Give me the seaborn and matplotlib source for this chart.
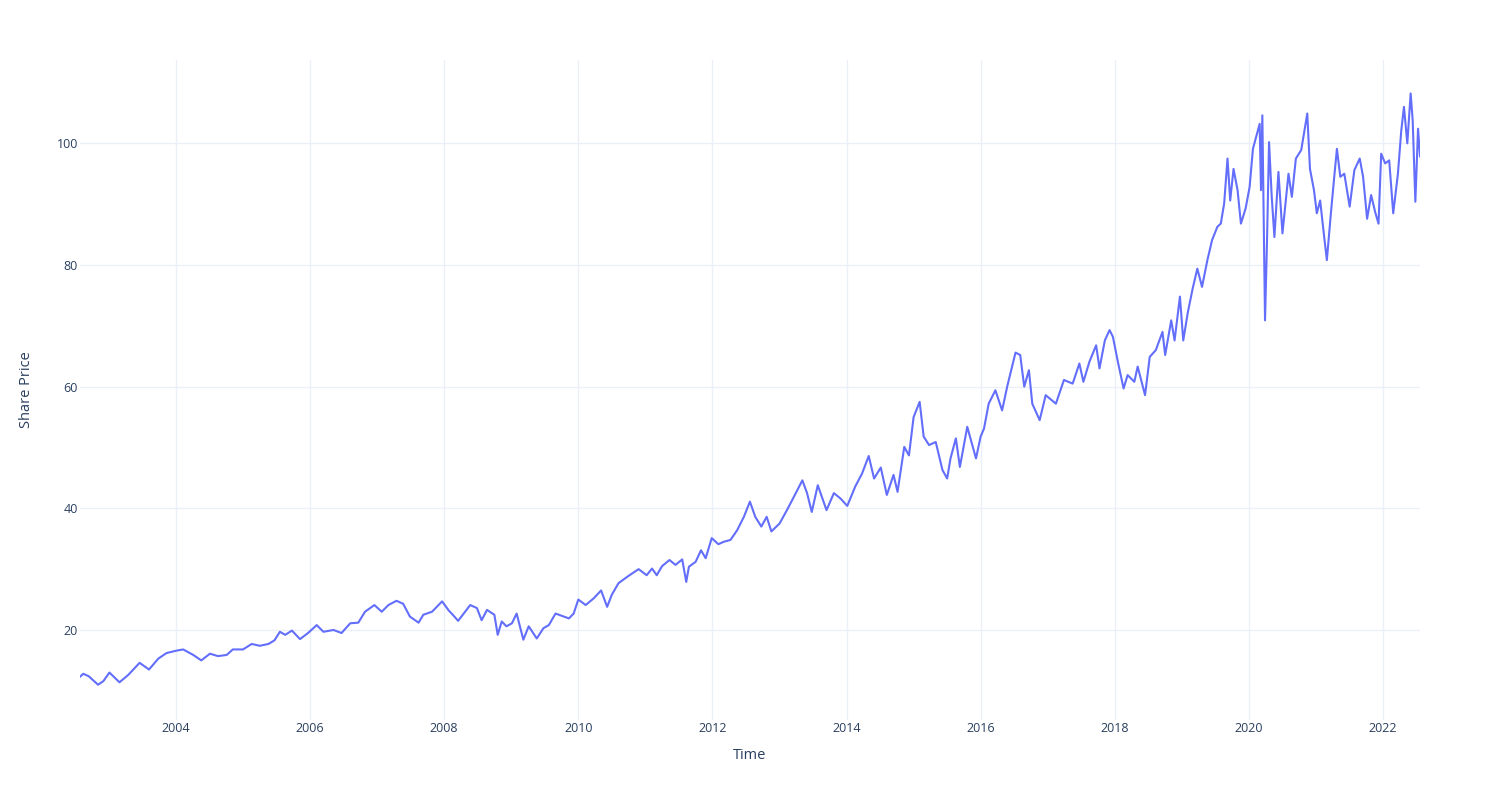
import matplotlib
matplotlib.use("Agg")
import matplotlib.pyplot as plt
import matplotlib.dates as mdates
import pandas as pd
import seaborn as sns

# time as fractional years, share price
time_years = [
    2002.57, 2002.62, 2002.70, 2002.84, 2002.92, 2003.01, 2003.16, 2003.29, 2003.46, 2003.60,
    2003.74, 2003.86, 2004.01, 2004.11, 2004.26, 2004.38, 2004.51, 2004.63, 2004.76, 2004.85,
    2005.00, 2005.13, 2005.25, 2005.38, 2005.47, 2005.55, 2005.63, 2005.73, 2005.85, 2005.97,
    2006.10, 2006.20, 2006.35, 2006.47, 2006.60, 2006.72, 2006.82, 2006.96, 2007.07, 2007.17,
    2007.29, 2007.39, 2007.49, 2007.62, 2007.69, 2007.82, 2007.97, 2008.07, 2008.13, 2008.21,
    2008.39, 2008.49, 2008.56, 2008.64, 2008.75, 2008.80, 2008.86, 2008.93, 2009.01, 2009.08,
    2009.18, 2009.26, 2009.38, 2009.48, 2009.56, 2009.66, 2009.76, 2009.86, 2009.93, 2010.00,
    2010.11, 2010.23, 2010.34, 2010.43, 2010.50, 2010.60, 2010.75, 2010.90, 2011.02, 2011.10,
    2011.17, 2011.25, 2011.36, 2011.45, 2011.55, 2011.61, 2011.65, 2011.75, 2011.83, 2011.90,
    2011.99, 2012.09, 2012.17, 2012.27, 2012.37, 2012.47, 2012.56, 2012.64, 2012.73, 2012.81,
    2012.88, 2013.00, 2013.11, 2013.20, 2013.34, 2013.41, 2013.48, 2013.57, 2013.70, 2013.81,
    2013.91, 2014.01, 2014.13, 2014.23, 2014.33, 2014.41, 2014.51, 2014.60, 2014.70, 2014.76,
    2014.86, 2014.93, 2015.00, 2015.09, 2015.15, 2015.23, 2015.33, 2015.43, 2015.50, 2015.55,
    2015.63, 2015.69, 2015.80, 2015.93, 2016.00, 2016.05, 2016.12, 2016.22, 2016.32, 2016.40,
    2016.52, 2016.59, 2016.65, 2016.72, 2016.77, 2016.88, 2016.97, 2017.12, 2017.24, 2017.37,
    2017.47, 2017.53, 2017.62, 2017.72, 2017.77, 2017.85, 2017.92, 2017.97, 2018.05, 2018.13,
    2018.19, 2018.29, 2018.34, 2018.45, 2018.52, 2018.61, 2018.71, 2018.75, 2018.84, 2018.89,
    2018.97, 2019.02, 2019.09, 2019.16, 2019.23, 2019.30, 2019.38, 2019.45, 2019.53, 2019.58,
    2019.63, 2019.68, 2019.72, 2019.77, 2019.83, 2019.88, 2019.95, 2020.01, 2020.06, 2020.12,
    2020.16, 2020.18, 2020.20, 2020.24, 2020.27, 2020.30, 2020.34, 2020.38, 2020.44, 2020.50,
    2020.59, 2020.64, 2020.70, 2020.78, 2020.87, 2020.91, 2020.97, 2021.01, 2021.06, 2021.12,
    2021.16, 2021.22, 2021.27, 2021.31, 2021.36, 2021.42, 2021.50, 2021.57, 2021.65, 2021.70,
    2021.76, 2021.82, 2021.88, 2021.93, 2021.97, 2022.03, 2022.09, 2022.15, 2022.22, 2022.27,
    2022.31, 2022.36, 2022.41, 2022.44, 2022.48, 2022.52, 2022.55,
]
share_price = [
    12.3, 12.8, 12.4, 11.0, 11.6, 13.0, 11.4, 12.6, 14.6, 13.5,
    15.3, 16.2, 16.6, 16.8, 15.9, 15.0, 16.1, 15.7, 15.9, 16.8,
    16.8, 17.7, 17.4, 17.7, 18.3, 19.7, 19.2, 19.9, 18.5, 19.5,
    20.8, 19.7, 20.0, 19.5, 21.1, 21.2, 23.0, 24.1, 23.0, 24.1,
    24.8, 24.3, 22.2, 21.2, 22.5, 23.0, 24.7, 23.2, 22.5, 21.5,
    24.1, 23.6, 21.6, 23.3, 22.5, 19.2, 21.4, 20.6, 21.1, 22.7,
    18.4, 20.6, 18.6, 20.3, 20.8, 22.7, 22.3, 21.9, 22.7, 25.0,
    24.1, 25.2, 26.5, 23.8, 25.8, 27.7, 28.9, 30.0, 29.0, 30.1,
    29.0, 30.5, 31.5, 30.7, 31.6, 27.9, 30.4, 31.2, 33.1, 31.8,
    35.1, 34.1, 34.5, 34.8, 36.4, 38.6, 41.1, 38.6, 37.0, 38.6,
    36.2, 37.5, 39.7, 41.6, 44.6, 42.5, 39.4, 43.8, 39.7, 42.5,
    41.6, 40.4, 43.6, 45.7, 48.6, 44.9, 46.7, 42.2, 45.5, 42.7,
    50.1, 48.7, 55.0, 57.5, 51.8, 50.4, 50.9, 46.3, 44.9, 48.2,
    51.5, 46.8, 53.4, 48.2, 51.8, 53.1, 57.2, 59.4, 56.1, 60.2,
    65.6, 65.2, 60.0, 62.7, 57.2, 54.5, 58.6, 57.2, 61.1, 60.5,
    63.8, 60.8, 64.1, 66.8, 63.0, 67.6, 69.3, 68.2, 63.8, 59.7,
    61.9, 60.8, 63.3, 58.6, 64.9, 66.0, 69.0, 65.2, 70.9, 67.6,
    74.8, 67.6, 72.3, 76.1, 79.4, 76.4, 80.8, 84.1, 86.3, 86.8,
    90.1, 97.5, 90.6, 95.8, 92.3, 86.8, 89.3, 92.8, 99.1, 101.6,
    103.2, 92.3, 104.6, 70.9, 84.1, 100.2, 91.2, 84.6, 95.3, 85.2,
    95.0, 91.2, 97.5, 98.9, 104.9, 95.8, 92.3, 88.5, 90.6, 84.6,
    80.8, 88.5, 94.5, 99.1, 94.5, 95.0, 89.6, 95.6, 97.5, 94.5,
    87.6, 91.5, 88.7, 86.8, 98.3, 96.7, 97.2, 88.5, 95.0, 102.1,
    106.0, 100.0, 108.2, 103.8, 90.4, 102.4, 97.8,
]


def to_date(year_frac: float) -> pd.Timestamp:
    year = int(year_frac)
    return pd.Timestamp(f"{year}-01-01") + pd.Timedelta(days=(year_frac - year) * 365.25)


sns.set_theme(style="white")
plt.rcParams["font.family"] = ["Open Sans", "DejaVu Sans"]

text_color = "#2a3f5f"
grid_color = "#EBF0F8"

dataframe = pd.DataFrame({"Time": [to_date(y) for y in time_years], "Share Price": share_price})

fig = plt.figure(figsize=(15, 8), dpi=100)
ax = fig.add_axes([0.0533, 0.1, 0.8934, 0.825])

sns.lineplot(data=dataframe, x="Time", y="Share Price", color="#636EFA", linewidth=1.5, ax=ax)

ax.set_xlim(dataframe["Time"].iloc[0], dataframe["Time"].iloc[-1])
ax.set_ylim(5.2, 113.7)
ax.set_yticks([20, 40, 60, 80, 100])
ax.xaxis.set_major_locator(mdates.YearLocator(2))
ax.xaxis.set_major_formatter(mdates.DateFormatter("%Y"))

ax.grid(True, color=grid_color, linewidth=1)
ax.set_axisbelow(True)
for spine in ax.spines.values():
    spine.set_visible(False)
ax.tick_params(axis="both", length=0, labelsize=9, labelcolor=text_color)
ax.tick_params(axis="x", pad=1.5)
ax.tick_params(axis="y", pad=1.5)

ax.set_xlabel("Time", fontsize=10.5, color=text_color, labelpad=9)
ax.set_ylabel("Share Price", fontsize=10.5, color=text_color, labelpad=16)

fig.savefig("out.png", dpi=100, facecolor="white")
